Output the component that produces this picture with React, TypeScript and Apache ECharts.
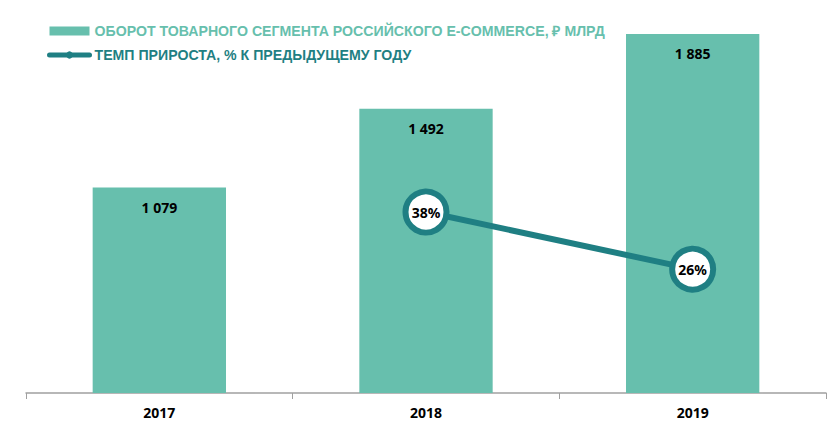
import React, { useEffect, useRef } from "react";
import * as echarts from "echarts";

const categories = ["2017", "2018", "2019"];
const turnover = [1079, 1492, 1885];
const growth: (number | null)[] = [null, 38, 26];
const barName = "ОБОРОТ ТОВАРНОГО СЕГМЕНТА РОССИЙСКОГО E-COMMERCE, ₽ МЛРД";
const lineName = "ТЕМП ПРИРОСТА, % К ПРЕДЫДУЩЕМУ ГОДУ";

const BAR = "#67bfad";
const LINE = "#1f7f83";

export default function App() {
  const ref = useRef<HTMLDivElement>(null);
  useEffect(() => {
    document.body.style.margin = "0";
    const chart = echarts.init(ref.current!, null, { renderer: "svg" });
    chart.setOption({
      animation: false,
      legend: {
        orient: "vertical",
        left: 47,
        top: 24,
        padding: 0,
        itemGap: 10,
        itemWidth: 40,
        itemHeight: 9,
        textStyle: { fontFamily: "Liberation Sans", fontWeight: "bold", fontSize: 14.15 },
        data: [
          { name: barName, icon: "rect", textStyle: { color: BAR } },
          {
            name: lineName,
            textStyle: { color: LINE },
            itemStyle: { color: LINE, borderColor: LINE, borderWidth: 0 },
            lineStyle: { color: LINE, width: 5, cap: "round" },
          },
        ],
      },
      grid: { left: 26, right: 1, top: 12, bottom: 41 },
      xAxis: {
        type: "category",
        data: categories,
        boundaryGap: true,
        axisLine: { lineStyle: { color: "#a0a0a0", width: 1.5 } },
        axisTick: { show: true, length: 6, lineStyle: { color: "#a0a0a0" } },
        axisLabel: {
          color: "#000",
          fontFamily: "Noto Sans",
          fontWeight: "bold",
          fontSize: 14,
          margin: 12,
        },
      },
      yAxis: [
        { type: "value", min: 0, max: 2000, show: false, splitLine: { show: false } },
        { type: "value", min: 0, max: 80, show: false, splitLine: { show: false } },
      ],
      series: [
        {
          name: barName,
          type: "bar",
          data: turnover,
          barWidth: "50%",
          itemStyle: { color: BAR },
          label: {
            show: true,
            position: "insideTop",
            distance: 13,
            color: "#000",
            fontFamily: "Noto Sans",
            fontWeight: "bold",
            fontSize: 14,
            formatter: (p: any) => String(p.value).replace(/\B(?=(\d{3})+(?!\d))/g, " "),
          },
        },
        {
          name: lineName,
          type: "line",
          yAxisIndex: 1,
          data: growth,
          symbol: "circle",
          symbolSize: 41,
          lineStyle: { color: LINE, width: 6 },
          itemStyle: { color: "#fff", borderColor: LINE, borderWidth: 6 },
          label: {
            show: true,
            position: "inside",
            color: "#000",
            fontFamily: "Noto Sans",
            fontWeight: "bold",
            fontSize: 14,
            formatter: (p: any) => p.value + "%",
          },
          z: 5,
        },
      ],
    });
    return () => chart.dispose();
  }, []);
  return <div ref={ref} style={{ width: 827, height: 434 }} />;
}
